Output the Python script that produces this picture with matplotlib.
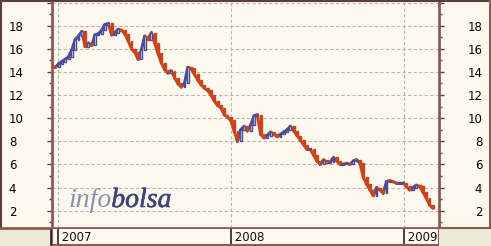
import matplotlib
matplotlib.use("Agg")
import matplotlib.pyplot as plt
import matplotlib.dates as mdates
import matplotlib.patheffects as pe
from matplotlib.collections import LineCollection
from matplotlib.patches import Rectangle
from matplotlib.lines import Line2D
import numpy as np
import pandas as pd

# ---- data (weekly closes) ----
start_date = "2006-12-19"
closes = [14.5, 14.4, 14.7, 14.9, 15.1, 15.3, 15.9, 16.8, 17.1, 17.5,
          16.2, 16.5, 16.3, 17.2, 17.3, 17.6, 18.1, 18.2, 17.2, 17.4,
          17.7, 17.6, 17.3, 16.7, 16.0, 15.7, 15.1, 15.9, 17.1, 16.8,
          17.4, 16.5, 15.6, 14.8, 14.2, 13.9, 14.1, 13.5, 13.0, 12.7,
          13.0, 14.4, 14.3, 13.8, 13.3, 12.9, 12.6, 12.4, 12.0, 11.5,
          11.1, 10.9, 10.3, 10.1, 9.8, 8.9, 8.0, 9.0, 9.3, 8.9,
          9.4, 10.2, 10.3, 8.6, 8.3, 8.5, 8.8, 8.6, 8.4, 8.6,
          8.8, 9.0, 9.3, 8.9, 8.5, 8.1, 7.7, 7.3, 7.3, 6.8,
          6.3, 6.0, 6.4, 6.2, 6.2, 6.6, 6.3, 6.0, 6.0, 6.1,
          6.0, 6.3, 6.4, 6.1, 4.9, 4.3, 3.8, 3.3, 4.0, 3.8,
          3.5, 4.5, 4.6, 4.5, 4.4, 4.4, 4.4, 4.1, 3.8, 4.0,
          4.2, 4.1, 3.6, 3.1, 2.5, 2.2]
dates = pd.date_range(start_date, periods=len(closes), freq="7D")
y_ticks = [2, 4, 6, 8, 10, 12, 14, 16, 18, 20]
y_labels = ["2", "4", "6", "8", "10", "12", "14", "16", "18", ""]
years = ["2007", "2008", "2009"]

W, H = 491, 246
fig = plt.figure(figsize=(W / 100, H / 100), dpi=100)
cream = "#fdf9ee"
grey = "#ece9d8"
brown = "#8c5a5a"
dark = "#5a3e3e"
up_col = "#4a4c98"
down_col = "#c8461e"
fig.patch.set_facecolor(cream)

def fx(px):
    return px / W

def fy(py):
    return 1 - py / H

# grey corners
fig.patches.append(Rectangle((0, 0), fx(50), fy(229), transform=fig.transFigure,
                             facecolor=grey, edgecolor="none", zorder=0))
fig.patches.append(Rectangle((fx(439), 0), 1 - fx(439), fy(229), transform=fig.transFigure,
                             facecolor=grey, edgecolor="none", zorder=0))

ax = fig.add_axes([fx(52), fy(228), fx(439) - fx(52), fy(2) - fy(228)])
ax.set_facecolor(cream)
xmin = pd.Timestamp("2006-12-19")
xmax = pd.Timestamp("2009-03-16")
ax.set_xlim(xmin, xmax)
ax.set_ylim(0.5, 20.05)

# grid
for yv in y_ticks:
    ax.axhline(yv, color="#bdb5ad", lw=0.8, ls=(0, (3, 2)), zorder=1)
for yr in years:
    ax.axvline(pd.Timestamp(yr + "-01-01"), color="#bdb5ad", lw=0.8, ls=(0, (3, 2)), zorder=1)

# price: thick segments + candle-like bodies (open = previous close)
xn = mdates.date2num(dates)
c = np.array(closes)
pts = np.column_stack([xn, c])
segs = np.stack([pts[:-1], pts[1:]], axis=1)
is_up = c[1:] >= c[:-1]
cols = [up_col if u else down_col for u in is_up]
lc = LineCollection(segs, colors=cols, linewidths=2.2, capstyle="round", zorder=3)
ax.add_collection(lc)
body_lo = np.minimum(c[:-1], c[1:])
body_h = np.maximum(np.abs(c[1:] - c[:-1]), 0.08)
ax.bar(xn[1:], body_h, bottom=body_lo, width=4.0,
       color=[cream if u else down_col for u in is_up],
       edgecolor=cols, linewidth=1.0, zorder=4)

# y axis ticks left and right
ax.set_yticks(y_ticks)
ax.set_yticks(np.arange(1, 20, 2), minor=True)
ax.set_yticklabels(y_labels)
ax.tick_params(axis="y", which="major", direction="out", length=3.6, width=1, color=dark,
               left=True, right=True, labelleft=True, labelright=True, labelsize=8.5, pad=27.5)
ax.tick_params(axis="y", which="minor", direction="out", length=2.2, width=1, color=dark,
               left=True, right=True)
for t in ax.yaxis.get_major_ticks():
    t.label1.set_horizontalalignment("left")
    t.label2.set_horizontalalignment("right")
ax.set_xticks([])
for side in ["left", "right"]:
    ax.spines[side].set_color(brown)
    ax.spines[side].set_linewidth(2)
ax.spines["top"].set_visible(False)
ax.spines["bottom"].set_color(brown)
ax.spines["bottom"].set_linewidth(2)

# bottom date strip
sx = fig.add_axes([fx(52), fy(245), fx(439) - fx(52), fy(229) - fy(245)])
sx.set_facecolor(cream)
sx.set_xlim(xmin, xmax)
sx.set_ylim(0, 1)
sx.set_xticks([])
sx.set_yticks([])
for s in sx.spines.values():
    s.set_color(brown)
    s.set_linewidth(1.5)
sx.spines["top"].set_visible(False)
for yr in years:
    d = pd.Timestamp(yr + "-01-01")
    sx.axvline(d, color="#222222", lw=1.2)
    sx.text(d, 0.45, " " + yr, ha="left", va="center", fontsize=8.5, color="#111111")

fig.lines.append(Line2D([fx(50.5), fx(50.5)], [fy(245), fy(229)], transform=fig.transFigure,
                        color="#222222", lw=1.2))

# outer borders
fig.lines.append(Line2D([0, 1], [fy(1), fy(1)], transform=fig.transFigure, color=dark, lw=1.5))
fig.lines.append(Line2D([fx(1), fx(1)], [fy(228), fy(1)], transform=fig.transFigure, color=dark, lw=1.5))
fig.lines.append(Line2D([fx(489.5), fx(489.5)], [fy(228), fy(1)], transform=fig.transFigure, color=brown, lw=1.5))
fig.lines.append(Line2D([0, fx(50)], [fy(228), fy(228)], transform=fig.transFigure, color=brown, lw=2))
fig.lines.append(Line2D([fx(439), fx(490)], [fy(228), fy(228)], transform=fig.transFigure, color=brown, lw=1.5))

# watermark
t1 = fig.text(fx(68), fy(207), "info", fontsize=20, family="Liberation Serif", style="italic",
              color="#8a90b2", ha="left", va="baseline", zorder=5)
fig.canvas.draw()
bb = t1.get_window_extent(fig.canvas.get_renderer())
t2 = fig.text(bb.x1 / W, fy(207), "bolsa", fontsize=20, family="Liberation Serif", style="italic",
              color="#3c4478", ha="left", va="baseline", zorder=5)
t2.set_path_effects([pe.withStroke(linewidth=0.4, foreground="#3c4478")])

fig.savefig("out.png", dpi=100, facecolor=fig.get_facecolor())
